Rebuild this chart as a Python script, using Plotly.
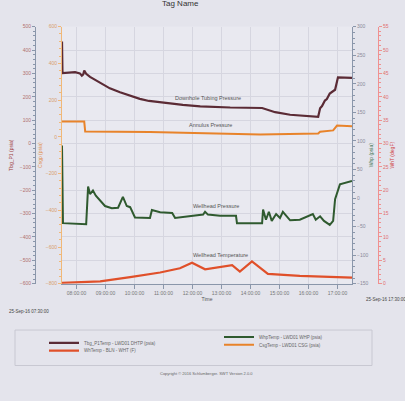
import plotly.graph_objects as go

W, H = 405, 401
DAY = "2016-09-25 "

# ---- data ----
tbg_time = ["07:30", "07:31", "07:57", "08:07", "08:11", "08:14", "08:16", "08:20", "08:28",
            "08:49", "09:09", "09:30", "10:11", "10:30", "11:03", "11:40", "12:16", "13:18",
            "14:24", "14:51", "15:22", "15:50", "16:20", "16:24", "16:28", "16:34", "16:38",
            "16:44", "16:51", "16:55", "17:01", "17:30"]
tbg_psia = [436, 301, 305, 300, 290, 296, 312, 298, 285,
            261, 236, 219, 191, 182, 173, 165, 159, 154,
            152, 134, 123, 120, 114, 151, 160, 184, 190,
            214, 222, 230, 283, 281]

csg_time = ["07:30", "08:16", "08:18", "10:32", "14:20", "15:42", "16:20", "16:24", "16:51",
            "16:59", "17:30"]
csg_psia = [83, 83, 29, 26, 13, 16, 18, 28, 35, 61, 58]

whp_time = ["07:30", "07:32", "08:20", "08:24", "08:28", "08:34", "08:40", "08:49", "08:59",
            "09:13", "09:26", "09:36", "09:44", "09:51", "10:01", "10:32", "10:36", "10:53",
            "11:18", "11:24", "11:55", "12:22", "12:26", "12:32", "12:57", "13:30", "13:32",
            "14:24", "14:26", "14:32", "14:38", "14:44", "14:53", "15:01", "15:07", "15:22",
            "15:42", "16:09", "16:15", "16:24", "16:32", "16:44", "16:51", "16:55", "17:05",
            "17:16", "17:30"]
whp_psia = [92, -44, -46, 20, 7, 13, 4, -5, -14,
            -18, -17, 2, -14, -16, -34, -35, -21, -25,
            -26, -35, -32, -29, -24, -29, -31, -31, -44,
            -44, -20, -38, -24, -40, -28, -35, -24, -39,
            -38, -28, -38, -32, -40, -47, -40, -2, 24,
            27, 30]

wht_time = ["07:30", "08:49", "09:51", "10:53", "11:34", "11:59", "12:26", "12:57", "13:22",
            "13:38", "14:03", "14:36", "15:42", "17:30"]
wht_degf = [0.2, 0.5, 1.4, 2.4, 3.3, 4.5, 3.1, 3.6, 4.0,
            2.6, 4.8, 2.1, 1.7, 1.3]

x_start, x_end = "07:30", "17:30"
left_date = "25-Sep-16 07:30:00"
right_date = "25-Sep-16 17:30:00"

def ts(lst):
    return [DAY + t for t in lst]

FONT = "Liberation Sans"

fig = go.Figure()
fig.add_trace(go.Scatter(x=ts(tbg_time), y=tbg_psia, mode="lines", yaxis="y",
                         line=dict(color="#5b2b35", width=2.2), legend="legend",
                         name="Tbg_P1Temp - LWD01 DHTP (psia)"))
fig.add_trace(go.Scatter(x=ts(wht_time), y=wht_degf, mode="lines", yaxis="y4",
                         line=dict(color="#e0502a", width=2.2), legend="legend2",
                         name="WhTemp - BLN - WHT (F)"))
fig.add_trace(go.Scatter(x=ts(whp_time), y=whp_psia, mode="lines", yaxis="y3",
                         line=dict(color="#2f5a2f", width=2), legend="legend3",
                         name="WhpTemp - LWD01 WHP (psia)"))
fig.add_trace(go.Scatter(x=ts(csg_time), y=csg_psia, mode="lines", yaxis="y2",
                         line=dict(color="#e8832a", width=2), legend="legend4",
                         name="CsgTemp - LWD01 CSG (psia)"))

xd = [62 / W, 352 / W]
yd = [1 - 285 / H, 1 - 24 / H]

axis_common = dict(showgrid=False, zeroline=False, showline=True, linewidth=1,
                   ticks="outside", ticklen=3, tickfont=dict(size=5, family=FONT))


def leg(px, py):
    return dict(orientation="v", x=px / W, y=1 - py / H, xanchor="left", yanchor="middle",
                bgcolor="rgba(0,0,0,0)", font=dict(size=4.5, color="#666", family=FONT),
                tracegroupgap=0, itemwidth=30)


fig.update_layout(
    width=W, height=H,
    margin=dict(l=0, r=0, t=0, b=0),
    paper_bgcolor="#e4e4ec",
    plot_bgcolor="#e9e9f0",
    font=dict(family=FONT, size=5, color="#555"),
    xaxis=dict(domain=xd, type="date", range=[DAY + x_start, DAY + x_end],
               dtick=3600000, tick0=DAY + "08:00", tickformat="%H:%M:%S",
               showgrid=True, gridcolor="#d6d6e0", gridwidth=1,
               showline=True, linecolor="#8a96aa", ticks="outside", ticklen=4,
               tickcolor="#8a96aa", tickfont=dict(size=5, color="#777"),
               title=dict(text="Time", font=dict(size=5, color="#555"), standoff=2),
               zeroline=False, anchor="y"),
    yaxis=dict(domain=yd, range=[-600, 500], dtick=100, anchor="free", position=35 / W,
               side="left", linecolor="#8a96aa", tickcolor="#8a96aa",
               tickfont=dict(size=5, color="#b07070"),
               minor=dict(dtick=20, ticklen=2, tickcolor="#8a96aa", ticks="outside"),
               title=dict(text="Tbg_P1 (psia)", font=dict(size=5, color="#a04040"), standoff=4),
               showgrid=True, gridcolor="#d6d6e0", zeroline=False, showline=True,
               ticks="outside", ticklen=3),
    yaxis2=dict(axis_common, range=[-800, 600], dtick=200, overlaying="y", anchor="x",
                side="left", linecolor="#f0b878", tickcolor="#f0b878",
                tickfont=dict(size=5, color="#d8a070"),
                minor=dict(dtick=40, ticklen=2, tickcolor="#f0b878", ticks="outside"),
                title=dict(text="Csgp (psia)", font=dict(size=5, color="#e09050"), standoff=2)),
    yaxis3=dict(axis_common, range=[-150, 300], dtick=50, overlaying="y", anchor="x",
                side="right", linecolor="#8a96aa", tickcolor="#8a96aa",
                tickfont=dict(size=5, color="#8a8a9a"),
                minor=dict(dtick=10, ticklen=2, tickcolor="#8a96aa", ticks="outside"),
                title=dict(text="Whp (psia)", font=dict(size=5, color="#4a7a5a"), standoff=2)),
    yaxis4=dict(axis_common, range=[0, 55], dtick=5, overlaying="y", anchor="free",
                position=378 / W, side="right", linecolor="#f09090", tickcolor="#f09090",
                tickfont=dict(size=5, color="#e07070"),
                minor=dict(dtick=1, ticklen=2, tickcolor="#f09090", ticks="outside"),
                title=dict(text="WhT (degF)", font=dict(size=5, color="#d04040"), standoff=2)),
    legend=leg(44, 345),
    legend2=leg(44, 353),
    legend3=leg(219, 339),
    legend4=leg(219, 347),
    showlegend=True,
)

fig.add_shape(type="rect", xref="paper", yref="paper",
              x0=15 / W, x1=372 / W, y0=1 - 368 / H, y1=1 - 332 / H,
              line=dict(color="#c8c8d2", width=1), fillcolor="rgba(0,0,0,0)", layer="below")

labels = [
    ("Downhole Tubing Pressure", 208, 96),
    ("Annulus Pressure", 210, 124),
    ("Wellhead Pressure", 216, 206),
    ("Wellhead Temperature", 220, 256),
]
for txt, px, py in labels:
    fig.add_annotation(text=txt, x=px / W, y=1 - py / H, xref="paper", yref="paper",
                       xanchor="center", yanchor="middle",
                       showarrow=False, font=dict(size=5.5, color="#555"))

fig.add_annotation(text=left_date, x=29 / W, y=1 - 313 / H, xref="paper", yref="paper",
                   xanchor="center", yanchor="middle",
                   showarrow=False, font=dict(size=4.5, color="#444"))
fig.add_annotation(text=right_date, x=386 / W, y=1 - 301 / H, xref="paper", yref="paper",
                   xanchor="center", yanchor="middle",
                   showarrow=False, font=dict(size=4.5, color="#444"))
fig.add_annotation(text="Copyright © 2016 Schlumberger. SWT Version 2.0.0",
                   x=207 / W, y=1 - 376 / H, xref="paper", yref="paper",
                   xanchor="center", yanchor="middle",
                   showarrow=False, font=dict(size=4, color="#666"))
fig.add_annotation(text="Tag Name", x=180 / W, y=1.0, xref="paper", yref="paper",
                   xanchor="center", yanchor="middle", showarrow=False,
                   font=dict(size=8, color="#333"))

fig.write_html("out.html", config={"displayModeBar": False},
               post_script="document.body.style.margin='0';")
